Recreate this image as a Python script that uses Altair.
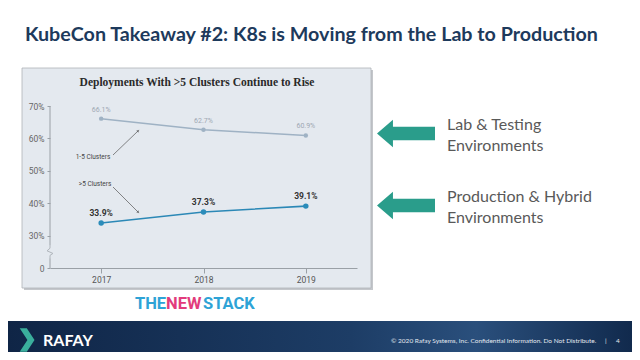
import altair as alt
import pandas as pd

# ---- data ----
years = ["2017", "2018", "2019"]
small_clusters = [66.1, 62.7, 60.9]   # 1-5 clusters (%)
large_clusters = [33.9, 37.3, 39.1]   # >5 clusters (%)
y_ticks = [20, 30, 40, 50, 60, 70]    # 20 is shown as "0" (broken axis)

slide_title = "KubeCon Takeaway #2: K8s is Moving from the Lab to Production"
chart_title = "Deployments With >5 Clusters Continue to Rise"
side_labels = [["Lab & Testing", "Environments"], ["Production & Hybrid", "Environments"]]
footer_text = "© 2020 Rafay Systems, Inc. Confidential Information. Do Not Distribute."

df_small = pd.DataFrame({"year": years, "pct": small_clusters})
df_large = pd.DataFrame({"year": years, "pct": large_clusters})
one = alt.Data(values=[{}])

x_axis = alt.Axis(title=None, labelAngle=0, labelFontSize=8.5, labelColor="#555555",
                  labelFont="Roboto", domainColor="#9aa0a6", tickColor="#9aa0a6",
                  tickSize=5, labelPadding=2, zindex=1)
y_axis = alt.Axis(title=None, values=y_ticks, grid=False, domain=False, labelOverlap=False,
                  labelExpr="datum.value == 20 ? '0' : datum.value + '%'",
                  labelFontSize=8.5, labelColor="#666666", labelFont="Roboto",
                  tickColor="#9aa0a6", tickSize=3, labelPadding=3, zindex=1)
y_scale = alt.Scale(domain=[20, 70], nice=False, zero=False)

X = alt.X("year:O", scale=alt.Scale(type="point", padding=0.5), axis=x_axis)
Y = alt.Y("pct:Q", scale=y_scale, axis=y_axis)

W, H = 307, 162
ox, oy = 50, 106  # window position of plot origin


def px(v):
    return v - ox


def py(v):
    return v - oy


layers = []

# panel shadow and panel
layers.append(alt.Chart(one).mark_rect(fill="#c4c7cb").encode(
    x=alt.value(px(24)), x2=alt.value(px(373)), y=alt.value(py(70)), y2=alt.value(py(290))))
layers.append(alt.Chart(one).mark_rect(fill="#e4e9ef", stroke="#aeb3b8", strokeWidth=0.8).encode(
    x=alt.value(px(22)), x2=alt.value(px(371)), y=alt.value(py(68)), y2=alt.value(py(288))))

# panel title
layers.append(alt.Chart(one).mark_text(font="Liberation Serif", fontWeight="bold", fontSize=11.5,
                                       color="#2a2a2a").encode(
    x=alt.value(px(197)), y=alt.value(py(83)), text=alt.value(chart_title)))

# data series
base_s = alt.Chart(df_small).encode(x=X, y=Y)
layers.append(base_s.mark_line(color="#9fb2c4", strokeWidth=1.5))
layers.append(base_s.mark_point(filled=True, color="#9fb2c4", size=20, opacity=1))
layers.append(base_s.mark_text(dy=-9, fontSize=7, color="#9ea8b3", font="Roboto")
              .transform_calculate(lbl="datum.pct + '%'").encode(text="lbl:N"))

base_l = alt.Chart(df_large).encode(x=X, y=Y)
layers.append(base_l.mark_line(color="#2b88b6", strokeWidth=1.6))
layers.append(base_l.mark_point(filled=True, color="#2b8cba", size=30, opacity=1))
layers.append(base_l.mark_text(dy=-10, fontSize=8.5, fontWeight="bold", color="#333333",
                               font="Roboto").transform_calculate(lbl="datum.pct + '%'").encode(
    text="lbl:N"))

# broken y axis line (uses the y scale)
layers.append(alt.Chart(one).mark_rule(color="#9aa0a6", strokeWidth=1).encode(
    x=alt.value(0), y=alt.YDatum(20, scale=y_scale, axis=y_axis), y2=alt.datum(23)))
layers.append(alt.Chart(one).mark_rule(color="#9aa0a6", strokeWidth=1).encode(
    x=alt.value(0), y=alt.YDatum(27, scale=y_scale, axis=y_axis), y2=alt.datum(70)))
layers.append(alt.Chart(one).mark_point(
    shape="M0,-1 L0,-0.55 L-0.45,-0.15 L0.45,0.25 L0,0.55 L0,1",
    filled=False, color="#9aa0a6", strokeWidth=1, size=169).encode(
    x=alt.value(0), y=alt.YDatum(25, scale=y_scale, axis=y_axis)))

# annotation lines and labels
ann = [((113, 155), (138, 131), 46, "1-5 Clusters", (93, 157)),
       ((113, 187), (138, 212), 135, ">5 Clusters", (95, 184))]
for (x1, y1), (x2, y2), ang, lab, (tx, ty) in ann:
    layers.append(alt.Chart(one).mark_rule(color="#555555", strokeWidth=0.7).encode(
        x=alt.value(px(x1)), y=alt.value(py(y1)), x2=alt.value(px(x2)), y2=alt.value(py(y2))))
    layers.append(alt.Chart(one).mark_point(shape="triangle", filled=True, color="#555555",
                                            size=10, angle=ang).encode(
        x=alt.value(px(x2)), y=alt.value(py(y2))))
    layers.append(alt.Chart(one).mark_text(fontSize=6.5, color="#444444", font="Roboto").encode(
        x=alt.value(px(tx)), y=alt.value(py(ty)), text=alt.value(lab)))

# slide title
layers.append(alt.Chart(one).mark_text(font="Lato", fontWeight="bold", fontSize=19.7, color="#1d3a5c",
                                       align="left").encode(
    x=alt.value(px(25)), y=alt.value(py(35)), text=alt.value(slide_title)))

# right side arrows and labels
arrow_path = "M-1,0 L-0.45,-0.47 L-0.45,-0.23 L1,-0.23 L1,0.23 L-0.45,0.23 L-0.45,0.47 Z"
for cy, (l1, l2) in zip([133.5, 205.5], side_labels):
    layers.append(alt.Chart(one).mark_point(shape=arrow_path, filled=True, color="#2a9d8b",
                                            opacity=1, size=3364, strokeWidth=0).encode(
        x=alt.value(px(406)), y=alt.value(py(cy))))
    layers.append(alt.Chart(one).mark_text(font="Lato", fontSize=16, color="#595959",
                                           align="left").encode(
        x=alt.value(px(447)), y=alt.value(py(cy - 9)), text=alt.value(l1)))
    layers.append(alt.Chart(one).mark_text(font="Lato", fontSize=16, color="#595959",
                                           align="left").encode(
        x=alt.value(px(447)), y=alt.value(py(cy + 12.5)), text=alt.value(l2)))

# THE NEW STACK logo
for txt, lx, col in [("THE", 135, "#2ea3d6"), ("NEW", 166, "#e23b7c"), ("STACK", 203, "#2ea3d6")]:
    layers.append(alt.Chart(one).mark_text(font="Roboto", fontWeight="bold",
                                           fontSize=16.5, color=col, align="left").encode(
        x=alt.value(px(lx)), y=alt.value(py(304)), text=alt.value(txt)))

# footer bar
layers.append(alt.Chart(one).mark_rect(
    fill=alt.Gradient(gradient="linear", x1=0, x2=1, y1=0, y2=0,
                      stops=[alt.GradientStop(offset=0, color="#0f2546"),
                             alt.GradientStop(offset=0.55, color="#1d3d66"),
                             alt.GradientStop(offset=0.75, color="#2a4f7c"),
                             alt.GradientStop(offset=1, color="#112a4d")])).encode(
    x=alt.value(px(8)), x2=alt.value(px(632)), y=alt.value(py(321)), y2=alt.value(py(352))))
layers.append(alt.Chart(one).mark_point(
    shape="M-0.7,-1 L-0.1,-1 L0.55,0 L-0.1,1 L-0.7,1 L-0.05,0 Z",
    filled=True, color="#3aae9c", opacity=1, size=560).encode(
    x=alt.value(px(28)), y=alt.value(py(340))))
layers.append(alt.Chart(one).mark_text(font="Lato", fontWeight="bold", fontSize=16, color="#ffffff",
                                       align="left").encode(
    x=alt.value(px(43)), y=alt.value(py(341)), text=alt.value("RAFAY")))
layers.append(alt.Chart(one).mark_text(font="Lato", fontSize=6.5, color="#e3e9f0", align="left").encode(
    x=alt.value(px(391)), y=alt.value(py(341)), text=alt.value(footer_text)))
layers.append(alt.Chart(one).mark_text(font="Lato", fontSize=6.5, color="#e3e9f0", align="left").encode(
    x=alt.value(px(605)), y=alt.value(py(341)), text=alt.value("|")))
layers.append(alt.Chart(one).mark_text(font="Lato", fontSize=6.5, color="#e3e9f0", align="left").encode(
    x=alt.value(px(616)), y=alt.value(py(341)), text=alt.value("4")))

chart = alt.layer(*layers).properties(
    width=W, height=H, autosize="none",
    padding={"left": 42, "top": 98, "right": 624 - 42 - W, "bottom": 344 - 98 - H},
    background="white",
).configure_view(strokeWidth=0)

chart.save("out.html", embed_options={"renderer": "svg", "actions": False})
